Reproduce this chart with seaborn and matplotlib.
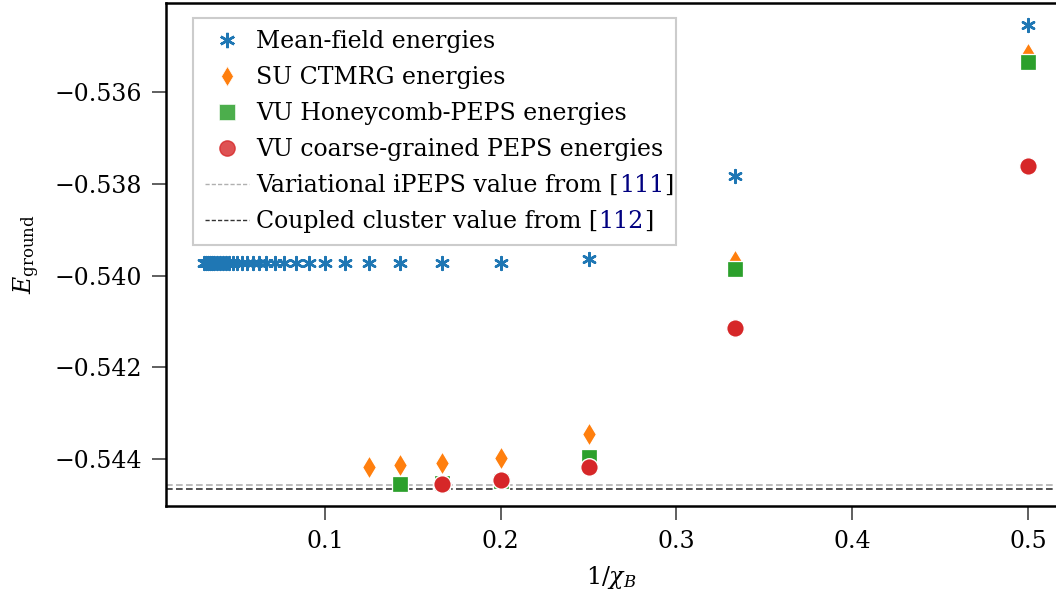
import numpy as np
import pandas as pd
import seaborn as sns
import matplotlib.pyplot as plt
from matplotlib.lines import Line2D

# bond dimensions and energies
chi_mf = [2, 3, 4, 5, 6, 7, 8, 9, 10, 11, 12, 13, 14, 15, 16, 17, 18, 19, 20,
          21, 22, 23, 24, 25, 26, 27, 28, 29, 30, 31, 32]
e_mf = [-0.53453, -0.53782, -0.53963, -0.53972, -0.53972, -0.53972, -0.53972,
        -0.53972, -0.53972, -0.53972, -0.53972, -0.53972, -0.53972, -0.53972,
        -0.53972, -0.53972, -0.53972, -0.53972, -0.53972, -0.53972, -0.53972,
        -0.53972, -0.53972, -0.53972, -0.53972, -0.53972, -0.53972, -0.53972,
        -0.53972, -0.53972, -0.53972]

chi_su = [2, 3, 4, 5, 6, 7, 8]
e_su = [-0.53516, -0.53968, -0.54346, -0.54399, -0.54409, -0.54413, -0.54417]

chi_hc = [2, 3, 4, 5, 6, 7]
e_hc = [-0.53534, -0.53986, -0.54395, -0.54448, -0.54453, -0.54455]

chi_cg = [2, 3, 4, 5, 6]
e_cg = [-0.53760, -0.54115, -0.54417, -0.54447, -0.54454]

e_ipeps = -0.54457
e_ccm = -0.54465

labels = ['Mean-field energies', 'SU CTMRG energies', 'VU Honeycomb-PEPS energies',
          'VU coarse-grained PEPS energies']
ref_labels = [('Variational iPEPS value from [', '111'),
              ('Coupled cluster value from [', '112')]

sns.set_style('ticks')
plt.rcParams['font.family'] = ['DejaVu Serif']
plt.rcParams['mathtext.fontset'] = 'dejavuserif'
plt.rcParams['font.size'] = 17
plt.rcParams['text.color'] = 'black'
plt.rcParams['axes.labelcolor'] = 'black'
plt.rcParams['xtick.labelcolor'] = 'black'
plt.rcParams['ytick.labelcolor'] = 'black'

fig = plt.figure(figsize=(10.56, 6.03), dpi=100)
ax = fig.add_axes([166 / 1056, 97 / 603, 890 / 1056, 503 / 603])

blue, orange, green, red = sns.color_palette('tab10')[:4]

ax.axhline(e_ipeps, color='#b0b0b0', ls=(0, (4, 2)), lw=1.2, zorder=1)
ax.axhline(e_ccm, color='#333333', ls=(0, (4, 2)), lw=1.2, zorder=1)

mf = pd.DataFrame({'x': 1 / np.array(chi_mf), 'E': e_mf})
su = pd.DataFrame({'x': 1 / np.array(chi_su), 'E': e_su})
hc = pd.DataFrame({'x': 1 / np.array(chi_hc), 'E': e_hc})
cg = pd.DataFrame({'x': 1 / np.array(chi_cg), 'E': e_cg})

sns.scatterplot(data=mf, x='x', y='E', ax=ax, marker=(6, 2, 0), color=blue,
                edgecolor=None, s=85, linewidth=1.8, zorder=3)
sns.scatterplot(data=su, x='x', y='E', ax=ax, marker='d', color=orange,
                s=140, zorder=3)
sns.scatterplot(data=hc, x='x', y='E', ax=ax, marker='s', color=green,
                s=135, zorder=4)
sns.scatterplot(data=cg, x='x', y='E', ax=ax, marker='o', color=red,
                s=160, zorder=5)

ax.set_xlim(0.0095, 0.516)
ax.set_ylim(-0.54503, -0.53405)
ax.set_xticks([0.1, 0.2, 0.3, 0.4, 0.5])
ax.set_yticks([-0.544, -0.542, -0.540, -0.538, -0.536])
ax.set_xlabel(r'$1/\chi_B$', labelpad=8)
ax.set_ylabel(r'$E_{\mathrm{ground}}$', labelpad=9)
ax.spines['right'].set_visible(False)
for sp in ['left', 'bottom', 'top']:
    ax.spines[sp].set_linewidth(1.8)
    ax.spines[sp].set_color('black')
ax.tick_params(length=10, width=1.2, color='#444444', pad=7)

handles = [
    Line2D([], [], ls='', marker=(6, 2, 0), color=blue, markersize=11, mew=1.8),
    Line2D([], [], ls='', marker='d', color=orange, markersize=10, mec='w', mew=0.5),
    Line2D([], [], ls='', marker='s', color=green, markersize=11, mec='w', mew=0.5, alpha=0.85),
    Line2D([], [], ls='', marker='o', color=red, markersize=11, mec=red, mew=1, alpha=0.8),
    Line2D([], [], color='#b0b0b0', ls=(0, (3, 1.5)), lw=1),
    Line2D([], [], color='#333333', ls=(0, (3, 1.5)), lw=1),
]
leg = ax.legend(handles, labels + [r[0] for r in ref_labels], loc='upper left',
                bbox_to_anchor=(0.03, 0.97), borderaxespad=0, fancybox=False,
                framealpha=1, edgecolor='#cccccc', handlelength=1.9,
                labelspacing=0.55, handletextpad=0.3, borderpad=0.5)
leg.get_frame().set_linewidth(1.5)

# citation numbers in navy, appended after the legend text
fig.canvas.draw()
renderer = fig.canvas.get_renderer()
for txt, (pre, num) in zip(leg.get_texts()[4:], ref_labels):
    bb = txt.get_window_extent(renderer)
    t1 = fig.text(bb.x1 / fig.bbox.width, bb.y0 / fig.bbox.height, num,
                  color='#000080', va='bottom', ha='left')
    bb1 = t1.get_window_extent(renderer)
    fig.text(bb1.x1 / fig.bbox.width, bb.y0 / fig.bbox.height, ']',
             va='bottom', ha='left')

fig.savefig('out.png', dpi=100)
